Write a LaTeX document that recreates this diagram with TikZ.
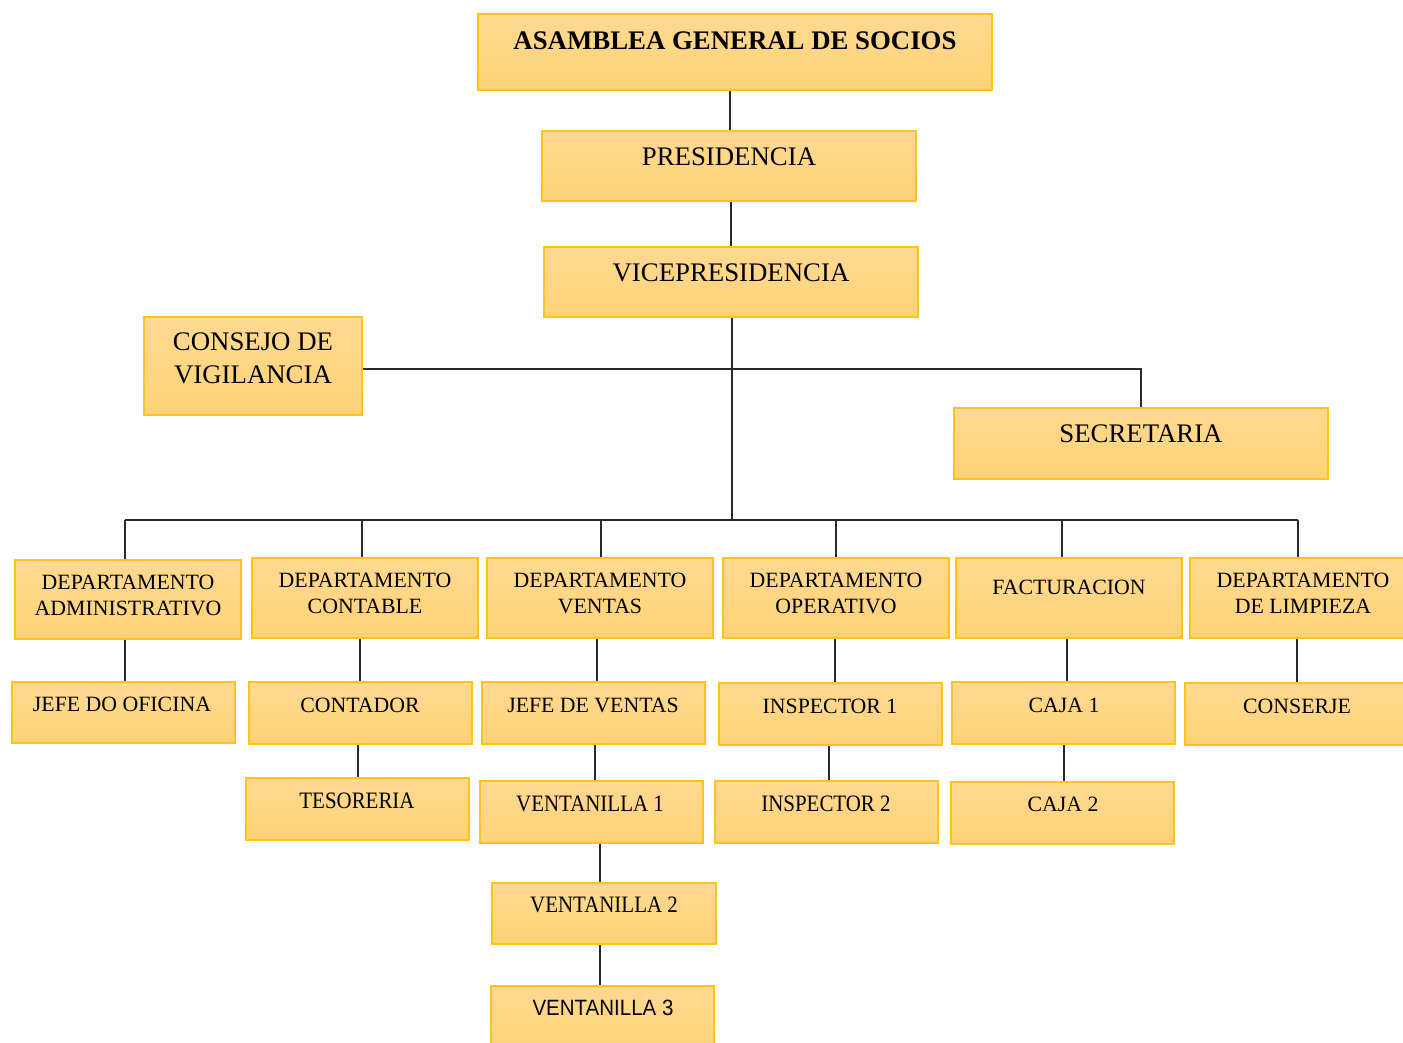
\documentclass[tikz,border=0pt]{standalone}
\usepackage{fontspec}
\setmainfont{Liberation Serif}
\newfontfamily\sansf{Liberation Sans}
\begin{document}
\begin{tikzpicture}[x=1pt,y=-1pt,
  box/.style={draw=boxline, line width=1.4pt, top color=fillA, bottom color=fillB,
    rectangle, inner sep=0pt, minimum width=#1},
  box/.default=226,
  big/.style={inner sep=0pt, align=center, font=\fontsize{26.8}{33}\selectfont},
  small/.style={inner sep=0pt, align=center, font=\fontsize{21.8}{26}\selectfont},
  link/.style={draw=linecol, line width=1.3pt}]
\definecolor{boxline}{HTML}{FFC31A}
\definecolor{fillA}{HTML}{FFD992}
\definecolor{fillB}{HTML}{FED275}
\definecolor{linecol}{HTML}{2A2A2A}
\newcommand{\narrow}[1]{\scalebox{0.96}[1.08]{#1}}
\useasboundingbox (0,0) rectangle (1403,1042);

% top of the hierarchy
\node[box=514, minimum height=76] (asamblea) at (735,52) {};
\node[big, font=\fontsize{26.8}{33}\selectfont\bfseries] (asamblea-t) at (735,41) {ASAMBLEA GENERAL DE SOCIOS};
\node[box=374, minimum height=70] (pres) at (729,166) {};
\node[big] (pres-t) at (729,157) {PRESIDENCIA};
\node[box=374, minimum height=70] (vice) at (731,282) {};
\node[big] (vice-t) at (731,273) {VICEPRESIDENCIA};
\node[box=218, minimum height=98] (consejo) at (253,366) {};
\node[big] (consejo-t) at (253,358.5) {CONSEJO DE\\VIGILANCIA};
\node[box=374, minimum height=71] (secret) at (1141,443.5) {};
\node[big] (secret-t) at (1141,434) {SECRETARIA};

% departments
\node[box, minimum height=79] (admin) at (128,599.5) {};
\node[small] (admin-t) at (128,595) {DEPARTAMENTO\\ADMINISTRATIVO};
\node[box, minimum height=80] (contable) at (365,598) {};
\node[small] (contable-t) at (365,593.5) {DEPARTAMENTO\\CONTABLE};
\node[box, minimum height=80] (ventas) at (600,598) {};
\node[small] (ventas-t) at (600,593) {DEPARTAMENTO\\VENTAS};
\node[box, minimum height=80] (operativo) at (836,598) {};
\node[small] (operativo-t) at (836,593.5) {DEPARTAMENTO\\OPERATIVO};
\node[box, minimum height=80] (factura) at (1069,598) {};
\node[small] (factura-t) at (1069,587) {FACTURACION};
\node[box=222, minimum height=80] (limpieza) at (1301,598) {};
\node[small] (limpieza-t) at (1303,593.5) {DEPARTAMENTO\\DE LIMPIEZA};

% second level
\node[box=223, minimum height=61] (jefeofi) at (123.5,712.5) {};
\node[small] (jefeofi-t) at (122,704) {JEFE DO OFICINA};
\node[box=223, minimum height=62] (contador) at (360.5,713) {};
\node[small] (contador-t) at (360,705) {CONTADOR};
\node[box=223, minimum height=62] (jefeven) at (593.5,713) {};
\node[small] (jefeven-t) at (593,705) {JEFE DE VENTAS};
\node[box=223, minimum height=62] (insp1) at (830.5,714) {};
\node[small] (insp1-t) at (830,706) {INSPECTOR 1};
\node[box=223, minimum height=62] (caja1) at (1063.5,713) {};
\node[small] (caja1-t) at (1064,705) {CAJA 1};
\node[box=225, minimum height=62] (conserje) at (1297.5,714) {};
\node[small] (conserje-t) at (1297,706) {CONSERJE};

% third level and below
\node[box=223, minimum height=62] (tesoreria) at (357.5,809) {};
\node[small] (tesoreria-t) at (357,801) {\narrow{TESORERIA}};
\node[box=223, minimum height=62] (vent1) at (591.5,812) {};
\node[small] (vent1-t) at (590,804) {\narrow{VENTANILLA 1}};
\node[box=223, minimum height=62] (insp2) at (826.5,812) {};
\node[small] (insp2-t) at (826,804) {\narrow{INSPECTOR 2}};
\node[box=223, minimum height=62] (caja2) at (1062.5,813) {};
\node[small] (caja2-t) at (1063,804) {CAJA 2};
\node[box=224, minimum height=61] (vent2) at (604,913.5) {};
\node[small] (vent2-t) at (604,905) {\narrow{VENTANILLA 2}};
\node[box=223, minimum height=64] (vent3) at (602.5,1018) {};
\node[small, font=\fontsize{20.5}{25}\sansf] (vent3-t) at (603,1008) {\scalebox{1}[1.08]{VENTANILLA 3}};

% connectors
\coordinate (busL) at (125,520);
\coordinate (busR) at (1298,520);
\draw[link] (asamblea.south -| {(730,0)}) -- (pres.north -| {(730,0)});
\draw[link] (pres.south -| {(731,0)}) -- (vice.north -| {(731,0)});
\draw[link] (vice.south -| {(732,0)}) -- (busL -| {(732,0)});
\draw[link] ([yshift=-3pt]consejo.east) -- ([yshift=-3pt]consejo.east -| secret.north) -- (secret.north);
\draw[link] (busL) -- (busR);
\foreach \d/\x in {admin/125, contable/362, ventas/601, operativo/836, factura/1062, limpieza/1298}
  \draw[link] (\x,520) -- (\d.north -| {(\x,0)});
\draw[link] (admin.south -| {(125,0)}) -- (jefeofi.north -| {(125,0)});
\draw[link] (contable.south -| {(360,0)}) -- (contador.north -| {(360,0)});
\draw[link] (ventas.south -| {(597,0)}) -- (jefeven.north -| {(597,0)});
\draw[link] (operativo.south -| {(835,0)}) -- (insp1.north -| {(835,0)});
\draw[link] (factura.south -| {(1067,0)}) -- (caja1.north -| {(1067,0)});
\draw[link] (limpieza.south -| {(1297,0)}) -- (conserje.north -| {(1297,0)});
\draw[link] (contador.south -| {(358,0)}) -- (tesoreria.north -| {(358,0)});
\draw[link] (jefeven.south -| {(595,0)}) -- (vent1.north -| {(595,0)});
\draw[link] (insp1.south -| {(829,0)}) -- (insp2.north -| {(829,0)});
\draw[link] (caja1.south -| {(1064,0)}) -- (caja2.north -| {(1064,0)});
\draw[link] (vent1.south -| {(600,0)}) -- (vent2.north -| {(600,0)});
\draw[link] (vent2.south -| {(600,0)}) -- (vent3.north -| {(600,0)});
\end{tikzpicture}
\end{document}
